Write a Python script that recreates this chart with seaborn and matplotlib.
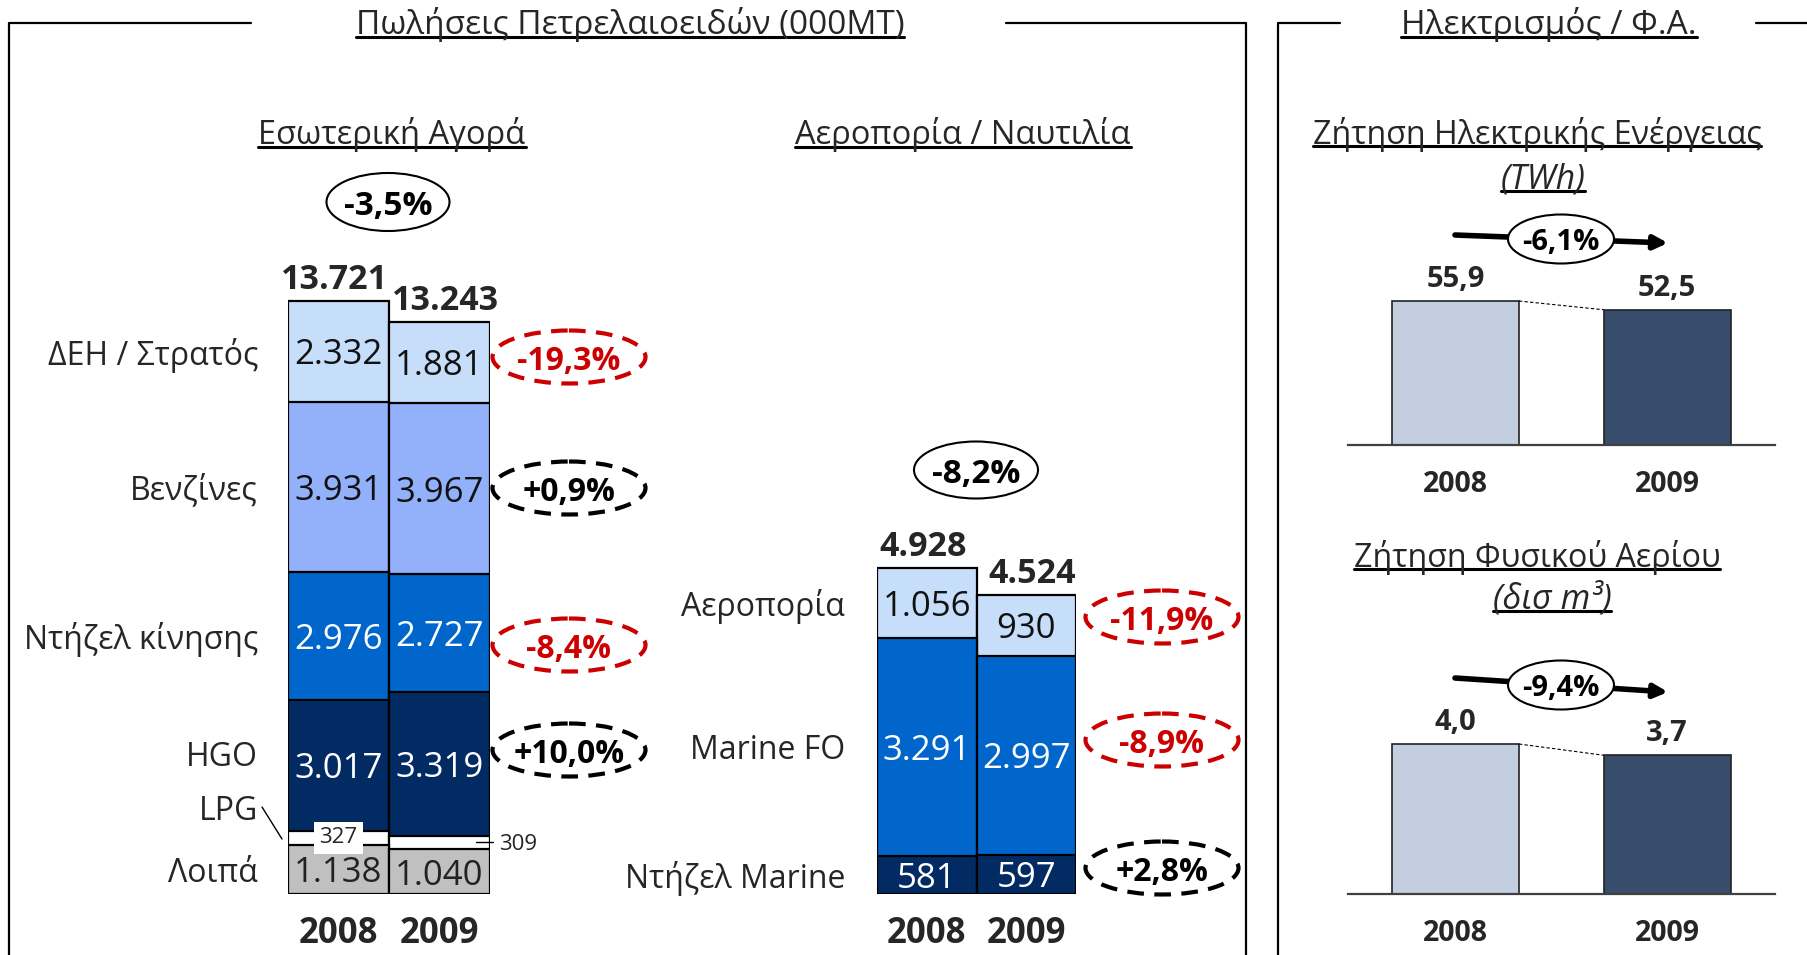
import numpy as np
import pandas as pd
import seaborn as sns
import matplotlib.pyplot as plt
from matplotlib.patches import Ellipse

# ---------------- data ----------------
years = ["2008", "2009"]

# domestic market, bottom -> top
dom_labels = ["Λοιπά", "LPG", "HGO", "Ντήζελ κίνησης", "Βενζίνες", "ΔΕΗ / Στρατός"]
dom_2008 = [1138, 327, 3017, 2976, 3931, 2332]
dom_2009 = [1040, 309, 3319, 2727, 3967, 1881]
dom_totals = [13721, 13243]
dom_change = ["+10,0%", "-8,4%", "+0,9%", "-19,3%"]   # HGO, diesel, petrol, PPC
dom_total_change = "-3,5%"

# aviation / marine, bottom -> top
av_labels = ["Ντήζελ Marine", "Marine FO", "Αεροπορία"]
av_2008 = [581, 3291, 1056]
av_2009 = [597, 2997, 930]
av_totals = [4928, 4524]
av_change = ["+2,8%", "-8,9%", "-11,9%"]
av_total_change = "-8,2%"

# electricity / natural gas
power_vals = [55.9, 52.5]
power_labels = ["55,9", "52,5"]
power_change = "-6,1%"
gas_vals = [4.0, 3.7]
gas_labels = ["4,0", "3,7"]
gas_change = "-9,4%"

# ---------------- style ----------------
dom_colors = ["#C0C0C0", "#FFFFFF", "#022B63", "#0066CC", "#93B1FA", "#C6DEFA"]
dom_text = ["#222222", "#000000", "white", "white", "#111111", "#111111"]
av_colors = ["#022B63", "#0066CC", "#C6DEFA"]
av_text = ["white", "white", "#111111"]
yr_colors = ["#C3CEE0", "#384C6C"]
RED = "#CC0000"

sns.set_style("white")
plt.rcParams["font.family"] = ["Open Sans", "DejaVu Sans"]

W, H = 1807, 955
fig = plt.figure(figsize=(W / 100, H / 100), dpi=100)

VAL_FS = 25
LAB_FS = 23


def fmt(v):
    return f"{v:,}".replace(",", ".")


def place(x0, x1, base, top, px_per_unit, xlim):
    ax = fig.add_axes([x0 / W, (H - base) / H, (x1 - x0) / W, (base - top) / H])
    ax.set_xlim(*xlim)
    ax.set_ylim(0, (base - top) / px_per_unit)
    return ax


def stacked(ax, labels, v08, v09, colors, total):
    df = pd.DataFrame({"seg": labels, "2008": v08, "2009": v09})
    cum = df[["2008", "2009"]].cumsum()
    # draw from the top segment down so lower ones overlay
    for i in reversed(range(len(df))):
        sns.barplot(x=years, y=cum.iloc[i].values, color=colors[i], saturation=1,
                    width=1.0, edgecolor="black", linewidth=1.6, ax=ax)
    mids = cum - df[["2008", "2009"]] / 2
    ax.set_xlim(-0.5, 1.5)
    ax.set_ylabel("")
    ax.set_yticks([])
    for s in ax.spines.values():
        s.set_visible(False)
    ax.tick_params(axis="x", length=0, pad=16)
    for lab in ax.get_xticklabels():
        lab.set_fontsize(25)
        lab.set_fontweight("bold")
    for j, dx in zip(range(len(years)), [-4, 6]):
        ax.annotate(fmt(total[j]), (j, total[j]), xytext=(dx, 4),
                    textcoords="offset pixels", ha="center", va="bottom",
                    fontsize=24.5, fontweight="bold")
    return df, mids


# ---------- domestic market ----------
ax1 = place(288, 490, 894, 250, 593 / 13721, (-0.5, 1.5))
df1, mids1 = stacked(ax1, dom_labels, dom_2008, dom_2009, dom_colors, dom_totals)
for i, lab in enumerate(dom_labels):
    if lab == "LPG":
        ax1.annotate(lab, (-0.5, mids1["2008"].iloc[i]), xytext=(-30, 30),
                     textcoords="offset pixels", ha="right", va="center_baseline",
                     fontsize=LAB_FS)
        continue
    for j, yr in enumerate(years):
        ax1.text(j, mids1[yr].iloc[i], fmt(df1[yr].iloc[i]),
                 ha="center", va="center_baseline", fontsize=VAL_FS, color=dom_text[i])
    dy = 12 if lab == "HGO" else 0
    ax1.annotate(lab, (-0.5, mids1["2008"].iloc[i]), xytext=(-30, dy),
                 textcoords="offset pixels", ha="right", va="center_baseline",
                 fontsize=LAB_FS)

# LPG small labels
ax1.annotate(f"{dom_2008[1]}", (0, mids1["2008"].iloc[1]), ha="center", va="center",
             fontsize=16, bbox=dict(boxstyle="square,pad=0.25", fc="white", ec="none"))
ax1.annotate(f"{dom_2009[1]}", (1.5, mids1["2009"].iloc[1]), xytext=(9, -2),
             textcoords="offset pixels", ha="left", va="center", fontsize=16)
ax1.plot([1.36, 1.53], [mids1["2009"].iloc[1]] * 2, color="black", lw=1, clip_on=False)

# ---------- aviation / marine ----------
ax2 = place(877, 1076, 894, 480, 326 / 4928, (-0.5, 1.5))
df2, mids2 = stacked(ax2, av_labels, av_2008, av_2009, av_colors, av_totals)
for i, lab in enumerate(av_labels):
    for j, yr in enumerate(years):
        ax2.text(j, mids2[yr].iloc[i], fmt(df2[yr].iloc[i]),
                 ha="center", va="center_baseline", fontsize=VAL_FS, color=av_text[i])
    ax2.annotate(lab, (-0.5, mids2["2008"].iloc[i]), xytext=(-32, 0),
                 textcoords="offset pixels", ha="right", va="center_baseline",
                 fontsize=LAB_FS)


# ---------- electricity / gas ----------
def simple(ax, vals, labels):
    sns.barplot(x=years, y=vals, hue=years, palette=yr_colors, saturation=1,
                width=0.6, edgecolor="#222222", linewidth=1.2, legend=False, ax=ax)
    ax.set_xlim(-0.508, 1.51)
    ax.set_yticks([])
    ax.set_ylabel("")
    for k in ["top", "left", "right"]:
        ax.spines[k].set_visible(False)
    ax.spines["bottom"].set_color("#404040")
    ax.spines["bottom"].set_linewidth(1.6)
    ax.tick_params(axis="x", length=0, pad=18)
    for lab in ax.get_xticklabels():
        lab.set_fontsize(20.5)
        lab.set_fontweight("bold")
    for j in range(2):
        ax.annotate(labels[j], (j, vals[j]), xytext=(0, 7), textcoords="offset pixels",
                    ha="center", va="bottom", fontsize=21, fontweight="bold")
    ax.plot([0.3, 0.7], vals, color="black", lw=0.8, ls=(0, (3, 2)))


ax3 = place(1348, 1775, 445, 250, 144 / 55.9, (-0.508, 1.51))
simple(ax3, power_vals, power_labels)
ax4 = place(1348, 1775, 894, 700, 150 / 4.0, (-0.508, 1.51))
simple(ax4, gas_vals, gas_labels)

# ---------- overlay: frames, titles, change bubbles ----------
ov = fig.add_axes([0, 0, 1, 1], zorder=5)
ov.set_xlim(0, W)
ov.set_ylim(H, 0)
ov.axis("off")
ov.patch.set_alpha(0)

frame = dict(color="black", lw=1.6)
ov.plot([9, 9, 251], [H, 23, 23], **frame)
ov.plot([1006, 1246, 1246], [23, 23, H], **frame)
ov.plot([1278, 1278, 1340], [H, 23, 23], **frame)
ov.plot([1756, W], [23, 23], **frame)

underline = []


def title(x, y, s, size=24, style="normal"):
    t = ov.text(x, y, s, ha="center", va="center", fontsize=size, style=style)
    underline.append(t)


title(630, 25, "Πωλήσεις Πετρελαιοειδών (000MT)")
title(1549, 25, "Ηλεκτρισμός / Φ.Α.")
title(392, 135, "Εσωτερική Αγορά", size=23.5)
title(963, 135, "Αεροπορία / Ναυτιλία", size=23.5)
title(1537, 134, "Ζήτηση Ηλεκτρικής Ενέργειας", size=23.2)
title(1543, 179, "(TWh)", size=24.5, style="italic")
title(1537, 557, "Ζήτηση Φυσικού Αερίου", size=23.2)
title(1552, 599, "(δισ m³)", size=24.5, style="italic")


def bubble(x, y, s, w, h, color="black", dashed=False, size=23):
    ov.add_patch(Ellipse((x, y), w, h, fc="white", ec=color, lw=3 if dashed else 1.5,
                         ls=(0, (4, 2.5)) if dashed else "-", zorder=3))
    ov.text(x, y, s, ha="center", va="center_baseline", fontsize=size,
            fontweight="bold", color=color, zorder=4)


bubble(388, 202, dom_total_change, 123, 58, size=24)
bubble(976, 470, av_total_change, 124, 57, size=24)
for yc, s in zip([750, 645, 488, 357], dom_change):
    bubble(569, yc, s, 153, 53, color=RED if s.startswith("-") else "black", dashed=True)
for yc, s in zip([868, 740, 617], av_change):
    bubble(1162, yc, s, 153, 53, color=RED if s.startswith("-") else "black", dashed=True)

for (x0, y0, x1, y1), s, yc in [((1455, 235, 1668, 243), power_change, 239),
                                ((1455, 678, 1668, 692), gas_change, 685)]:
    ov.annotate("", xy=(x1, y1), xytext=(x0, y0),
                arrowprops=dict(arrowstyle="-|>,head_length=0.8,head_width=0.4",
                                lw=4, color="black", shrinkA=0, shrinkB=0),
                zorder=2)
    bubble(1561, yc, s, 106, 49, size=21)

# LPG leader
ov.plot([262, 282], [807, 839], color="black", lw=1)

# underline titles
fig.canvas.draw()
r = fig.canvas.get_renderer()
for t in underline:
    bb = t.get_window_extent(renderer=r)
    yline = H - (bb.y0 + 0.16 * bb.height)
    ov.plot([bb.x0, bb.x1], [yline, yline], color="black", lw=2.2)

fig.savefig("out.png", dpi=100)
